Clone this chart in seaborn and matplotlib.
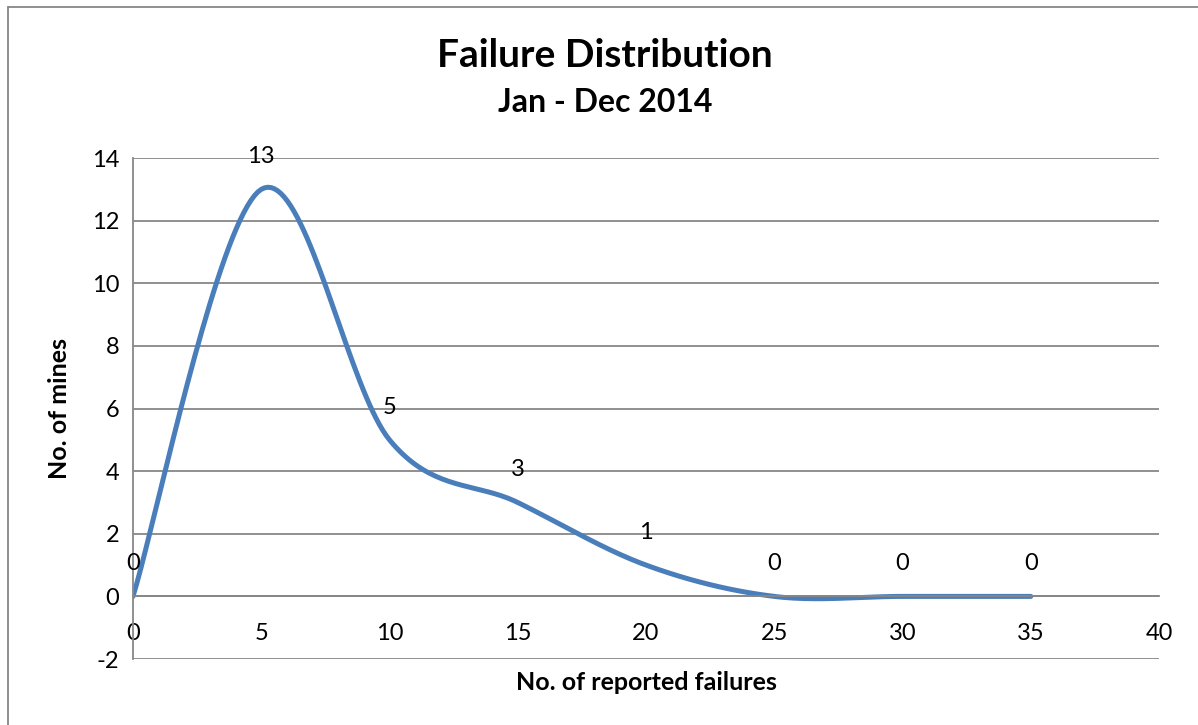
import matplotlib
matplotlib.use("Agg")
import matplotlib.pyplot as plt
import numpy as np
import pandas as pd
import seaborn as sns

# данные с графика
failures = [0, 5, 10, 15, 20, 25, 30, 35]
mines = [0, 13, 5, 3, 1, 0, 0, 0]
x_ticks = [0, 5, 10, 15, 20, 25, 30, 35, 40]
y_ticks = [-2, 0, 2, 4, 6, 8, 10, 12, 14]
title = "Failure Distribution"
subtitle = "Jan - Dec 2014"

line_color = "#4A7EBB"
grid_color = "#878787"

sns.set_style("white")
plt.rcParams["font.family"] = ["Lato", "DejaVu Sans"]
plt.rcParams["axes.unicode_minus"] = False
plt.rcParams["text.color"] = "black"


def smooth(xs, ys, n=40):
    # сглаживание как в Excel: кривые Безье с контрольными точками Катмулла-Рома
    p = np.column_stack([xs, ys]).astype(float)
    out = []
    for i in range(len(p) - 1):
        p0 = p[i - 1] if i > 0 else p[i]
        p3 = p[i + 2] if i + 2 < len(p) else p[i + 1]
        c1 = p[i] + (p[i + 1] - p0) / 6
        c2 = p[i + 1] - (p3 - p[i]) / 6
        t = np.linspace(0, 1, n)[:, None]
        seg = ((1 - t) ** 3 * p[i] + 3 * (1 - t) ** 2 * t * c1
               + 3 * (1 - t) * t ** 2 * c2 + t ** 3 * p[i + 1])
        out.append(seg if i == 0 else seg[1:])
    return np.vstack(out)


curve = smooth(failures, mines)
df = pd.DataFrame({"x": curve[:, 0], "y": curve[:, 1]})

fig = plt.figure(figsize=(11.98, 7.25), dpi=100)
ax = fig.add_axes([0.111, 0.091, 0.8565, 0.691])

sns.lineplot(data=df, x="x", y="y", sort=False, color=line_color,
             linewidth=3.6, ax=ax, solid_capstyle="round")

for xv, yv in zip(failures, mines):
    ax.annotate(str(yv), (xv, yv), xytext=(0, 23.5), textcoords="offset points",
                ha="center", va="center", fontsize=17, color="black")

ax.set_xlim(0, 40)
ax.set_ylim(-2, 14)
ax.set_xticks(x_ticks)
ax.set_yticks(y_ticks)
ax.yaxis.grid(True, color=grid_color, linewidth=1.3)
ax.set_axisbelow(True)

for s in ["top", "right"]:
    ax.spines[s].set_visible(False)
ax.spines["bottom"].set_position(("data", 0))
ax.spines["bottom"].set_color(grid_color)
ax.spines["bottom"].set_linewidth(1.3)
ax.spines["left"].set_color(grid_color)
ax.spines["left"].set_linewidth(1.3)

ax.tick_params(axis="both", direction="out", length=6, width=1.3, color=grid_color,
               labelsize=17, labelcolor="black")
ax.tick_params(axis="x", pad=13)
ax.tick_params(axis="y", pad=4)

ax.set_xlabel("")
ax.set_ylabel("")
fig.text(0.5397, 0.059, "No. of reported failures", ha="center", va="center",
         fontsize=18, fontweight="bold")
fig.text(0.05, 0.436, "No. of mines", ha="center", va="center", rotation=90,
         fontsize=18, fontweight="bold")

fig.text(0.505, 0.924, title, ha="center", va="center", fontsize=28, fontweight="bold")
fig.text(0.505, 0.858, subtitle, ha="center", va="center", fontsize=23, fontweight="bold")

# рамка области диаграммы
fig.add_artist(plt.Line2D([8 / 1198, 8 / 1198], [0, 1 - 7 / 725], color=grid_color,
                          linewidth=1.3, transform=fig.transFigure))
fig.add_artist(plt.Line2D([8 / 1198, 1], [1 - 7 / 725, 1 - 7 / 725], color=grid_color,
                          linewidth=1.3, transform=fig.transFigure))

fig.savefig("out.png", dpi=100)
